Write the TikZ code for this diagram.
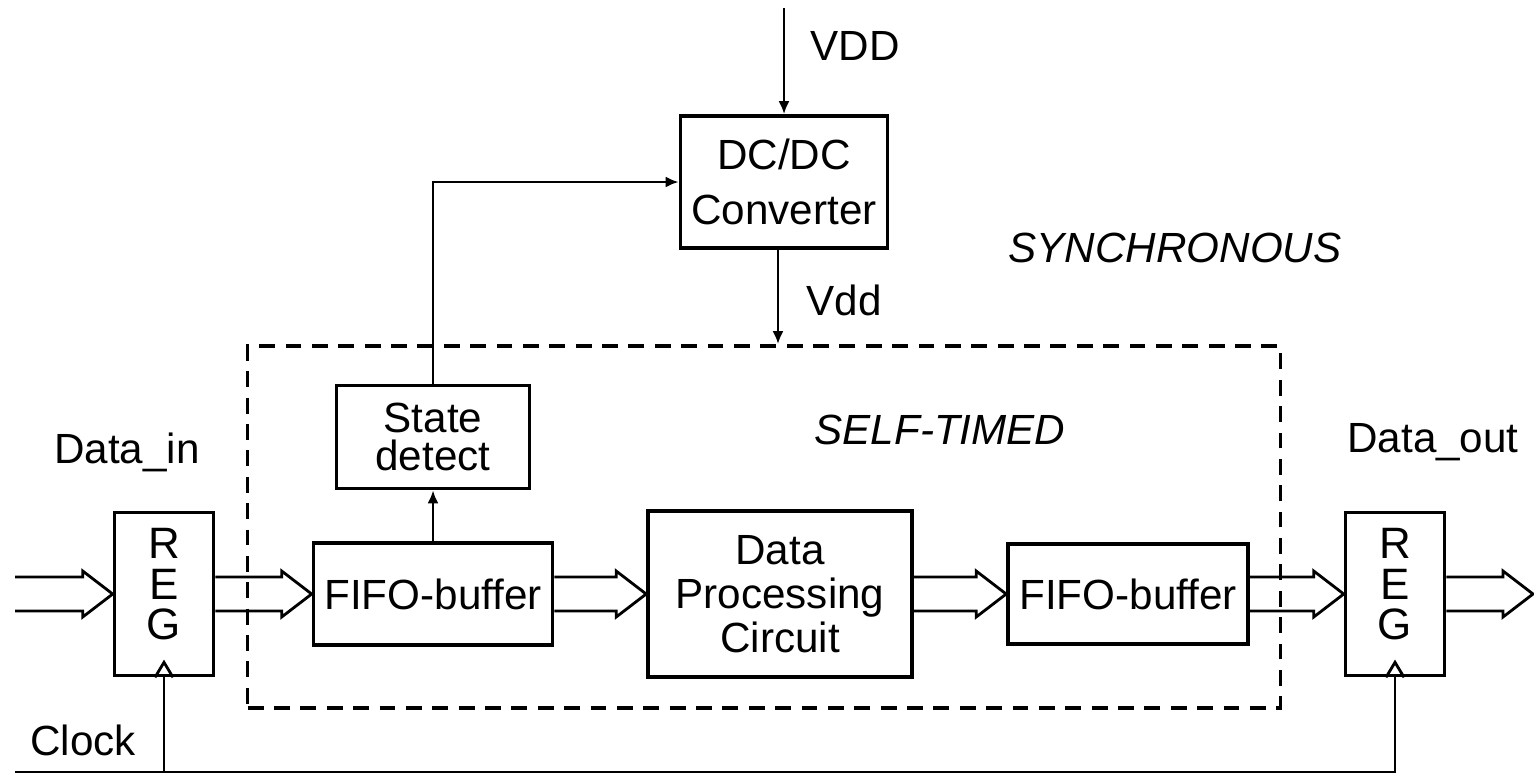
\documentclass[tikz,border=0pt]{standalone}
\usepackage{fontspec}
\setmainfont{Liberation Sans}
\usetikzlibrary{arrows.meta,calc}

\tikzset{
  blk/.style={draw, line width=1pt, align=center, inner sep=0pt},
  regbox/.style={blk, minimum width=0.99cm, minimum height=1.63cm, text depth=0.2cm,
                 font=\fontsize{12.5}{11.5}\selectfont},
  wire/.style={line width=0.8pt, -{Latex[length=1.3mm,width=1.1mm]}},
  bus/.style={line width=0.8pt, line join=miter},
  zone/.style={draw, line width=1pt, dash pattern=on 4.5pt off 3pt, inner sep=0pt},
  lbl/.style={inner sep=0pt},
}
% wide hollow arrow between two points
\newcommand{\busarrow}[2]{%
  \draw[bus] ($#1+(0,-17)$) -- ($#2+(-30,-17)$) -- ++(0,-6) -- #2
    -- ($#2+(-30,23)$) -- ++(0,-6) -- ($#1+(0,17)$);}

\begin{document}
\begin{tikzpicture}[x=0.01cm, y=-0.01cm, font=\fontsize{12}{14}\selectfont]
  \useasboundingbox[fill=white] (0,0) rectangle (1534,775);

  % self-timed region
  \node[zone, minimum width=10.32cm, minimum height=3.62cm] (st) at (764,527){};

  % blocks
  \node[blk, minimum width=2.07cm, minimum height=1.32cm,
        font=\fontsize{12}{15.5}\selectfont] (dcdc) at (784,182){DC/DC\\Converter};
  \node[blk, minimum width=1.93cm, minimum height=1.03cm,
        font=\fontsize{12}{11}\selectfont] (state) at (433,437){State\\detect};
  \node[regbox] (regin) at (164,594){R\\E\\G};
  \node[blk, minimum width=2.39cm, minimum height=1.02cm] (fifoa) at (433,594){FIFO-buffer};
  \node[blk, minimum width=2.64cm, minimum height=1.66cm,
        font=\fontsize{12}{12.5}\selectfont] (dpc) at (780,594){Data\\Processing\\Circuit};
  \node[blk, minimum width=2.40cm, minimum height=1.00cm] (fifob) at (1128,594){FIFO-buffer};
  \node[regbox] (regout) at (1395,594){R\\E\\G};

  % labels
  \node[lbl] (vddlbl) at (855,46){VDD};
  \node[lbl] (vddlbl2) at (844,300){Vdd};
  \node[lbl, font=\fontsize{12}{14}\itshape] (sync) at (1175,248){SYNCHRONOUS};
  \node[lbl, font=\fontsize{12}{14}\itshape] (self) at (940,430){SELF-TIMED};
  \node[lbl] (dinlbl) at (127,452){Data\_in};
  \node[lbl] (doutlbl) at (1433,442){Data\_out};
  \node[lbl] (clklbl) at (83,740){Clock};

  % free ends
  \coordinate (vdd) at (784,8);
  \coordinate (din) at (15,594);
  \coordinate (dout) at (1533,594);
  \coordinate (clk) at (15,772);

  % supply and control
  \draw[wire] (vdd) -- (dcdc.north);
  \draw[wire] ([xshift=-0.06cm]dcdc.south) -- ([xshift=-0.06cm]dcdc.south |- st.north);
  \draw[wire] (fifoa.north) -- (state.south);
  \draw[wire] (state.north) |- (dcdc.west);

  % data path
  \busarrow{(din)}{(regin.west)}
  \busarrow{(regin.east)}{(fifoa.west)}
  \busarrow{(fifoa.east)}{(dpc.west)}
  \busarrow{(dpc.east)}{(fifob.west)}
  \busarrow{(fifob.east)}{(regout.west)}
  \busarrow{(regout.east)}{(dout)}

  % clock
  \draw[line width=0.8pt] (clk) -| (regout.south);
  \draw[line width=0.8pt] (regin.south |- clk) -- (regin.south);
  \foreach \r in {regin, regout}{
    \draw[line width=0.8pt] ([xshift=-0.09cm]\r.south) -- ++(9,-15) -- ++(9,15);
  }
\end{tikzpicture}
\end{document}
